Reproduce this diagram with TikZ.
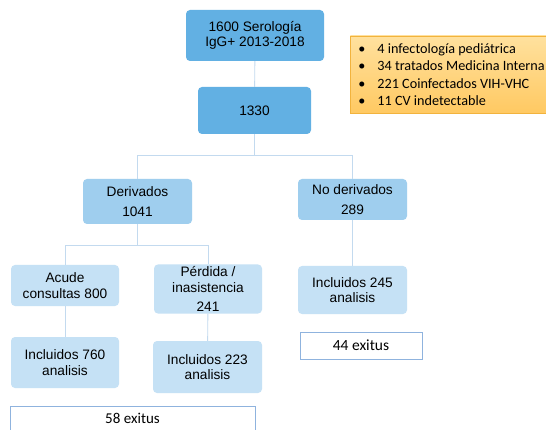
\documentclass[tikz,border=0pt]{standalone}
\usepackage{fontspec}
\setmainfont{Liberation Sans}
\newfontfamily\calibri{Carlito}
\definecolor{boxdark}{HTML}{62B0E3}
\definecolor{boxmid}{HTML}{9FCEEE}
\definecolor{boxlight}{HTML}{C5E1F5}
\definecolor{linkblue}{HTML}{C3DAEF}
\definecolor{exitusline}{HTML}{8FB3DE}
\definecolor{noteline}{HTML}{F2B33D}
\definecolor{notetop}{HTML}{FFE19E}
\definecolor{notebottom}{HTML}{FFC962}

\begin{document}
\begin{tikzpicture}[x=1pt,y=-1pt,
  boxnode/.style={rounded corners=4pt,align=center,inner sep=2pt,
    font=\fontsize{13.7}{15.5}\selectfont},
  link/.style={draw=linkblue,line width=0.9pt},
  exitus/.style={draw=exitusline,fill=white,line width=0.8pt,
    font=\calibri\fontsize{15.5}{17}\selectfont}]
\useasboundingbox (0,0) rectangle (546,430);
\fill[white] (0,0) rectangle (546,430);

\node[boxnode,fill=boxdark,minimum width=138pt,minimum height=51pt] (total) at (255,35.5) {1600 Serología\\IgG+ 2013-2018};
\node[boxnode,fill=boxdark,minimum width=113pt,minimum height=47pt] (sel) at (254.5,110.5) {1330};
\node[boxnode,fill=boxmid,minimum width=109pt,minimum height=45pt] (der) at (137.5,201.5) {Derivados\\[4pt]1041};
\node[boxnode,fill=boxmid,minimum width=109pt,minimum height=41pt] (noder) at (352.5,199.5) {No derivados\\[4pt]289};
\node[boxnode,fill=boxlight,minimum width=108pt,minimum height=41pt] (acude) at (65,285.5) {Acude\\consultas 800};
\node[boxnode,fill=boxlight,minimum width=108pt,minimum height=46pt] (perd) at (208,289) {Pérdida /\\inasistencia\\[4pt]241};
\node[boxnode,fill=boxlight,minimum width=109pt,minimum height=48pt] (inc245) at (352.5,290) {Incluidos 245\\analisis};
\node[boxnode,fill=boxlight,minimum width=108pt,minimum height=51pt] (inc760) at (65,362.5) {Incluidos 760\\analisis};
\node[boxnode,fill=boxlight,minimum width=109pt,minimum height=52pt] (inc223) at (207.5,367) {Incluidos 223\\analisis};

\node[exitus,minimum width=122pt,minimum height=27pt] (ex44) at (361,345.5) {44 exitus};
\node[exitus,minimum width=245pt,minimum height=34pt,text depth=10pt,
  font=\calibri\fontsize{15}{17}\selectfont] (ex58) at (132.5,423) {58 exitus};

\node[draw=noteline,line width=0.8pt,top color=notetop,bottom color=notebottom,
  anchor=west,minimum width=200pt,minimum height=77pt,inner xsep=8pt,align=left,
  font=\calibri\fontsize{14.2}{17.5}\selectfont] (note) at (350,74.5)
  {\makebox[19pt][l]{\textbullet}4 infectología pediátrica\\
   \makebox[19pt][l]{\textbullet}34 tratados Medicina Interna\\
   \makebox[19pt][l]{\textbullet}221 Coinfectados VIH-VHC\\
   \makebox[19pt][l]{\textbullet}11 CV indetectable};

\draw[link] (total) -- (sel);
\draw[link] (sel.south) -- ++(0,21) -| (der.north);
\draw[link] (sel.south) -- ++(0,21) -| (noder.north);
\draw[link] (der.south) -- ++(0,21) -| (acude.north);
\draw[link] (der.south) -- ++(0,21) -| (perd.north);
\draw[link] (noder) -- (inc245);
\draw[link] (acude) -- (inc760);
\draw[link] (perd) -- (inc223);
\end{tikzpicture}
\end{document}
